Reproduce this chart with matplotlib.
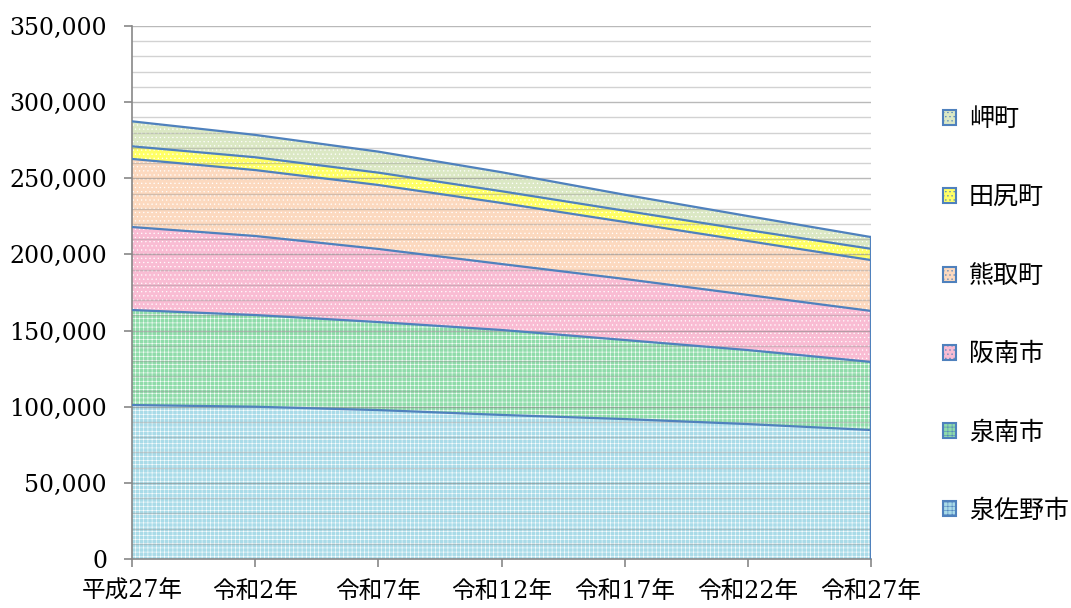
import numpy as np
import matplotlib.pyplot as plt
from matplotlib.patches import Patch
from matplotlib.ticker import FuncFormatter, MultipleLocator

years = ["平成27年", "令和2年", "令和7年", "令和12年", "令和17年", "令和22年", "令和27年"]

# bottom to top
izumisano = [101100, 100000, 97800, 94600, 91900, 88600, 84700]
sennan = [62400, 60200, 57800, 55800, 51900, 48600, 44700]
hannan = [54500, 51900, 48000, 43300, 40100, 36200, 33500]
kumatori = [44700, 43300, 42000, 40100, 37400, 35400, 33400]
tajiri = [8300, 8400, 8100, 7700, 7400, 7200, 7400]
misaki = [16400, 14700, 13800, 12500, 10500, 9200, 7700]

names = ["泉佐野市", "泉南市", "阪南市", "熊取町", "田尻町", "岬町"]
series = [izumisano, sennan, hannan, kumatori, tajiri, misaki]
colors = ["#a9dbe8", "#8fdcaa", "#f9bcd3", "#fcd9bf", "#ffff66", "#dbe8c4"]
hatches = ["++++", "++++", "....", "....", "....", "...."]

plt.rcParams['hatch.linewidth'] = 0.4
jp = ['DejaVu Serif', 'Noto Sans CJK JP']

fig = plt.figure(figsize=(10.71, 6.08), dpi=100)
ax = fig.add_axes([132 / 1071, 49 / 608, 739 / 1071, 533 / 608])

x = np.arange(len(years))
base = np.zeros(len(years))
for vals, c, h in zip(series, colors, hatches):
    top = base + np.array(vals)
    ax.fill_between(x, base, top, facecolor=c, edgecolor="white", hatch=h, linewidth=0, zorder=1)
    ax.plot(x, top, color="#4f81bd", lw=1.6, zorder=3)
    base = top
ax.plot([x[-1], x[-1]], [0, base[-1]], color="#4f81bd", lw=1.6, zorder=3)

# gridlines every 10,000, darker at 50,000
for v in range(10000, 350001, 10000):
    if v % 50000 == 0:
        ax.axhline(v, color="#808080", lw=1.0, alpha=0.55, zorder=2)
    else:
        ax.axhline(v, color="#909090", lw=1.0, alpha=0.4, zorder=2)

ax.set_xlim(0, len(years) - 1)
ax.set_ylim(0, 350000)
ax.yaxis.set_major_locator(MultipleLocator(50000))
ax.yaxis.set_major_formatter(FuncFormatter(lambda v, p: f"{int(v):,}"))
ax.set_xticks(x)
ax.set_xticklabels(years)
for lab in ax.get_xticklabels():
    lab.set_family(jp)
    lab.set_fontsize(17)
for lab in ax.get_yticklabels():
    lab.set_family('DejaVu Serif')
    lab.set_fontsize(17)

for s in ['top', 'right']:
    ax.spines[s].set_visible(False)
for s in ['left', 'bottom']:
    ax.spines[s].set_color("#888888")
    ax.spines[s].set_linewidth(1.2)
ax.tick_params(axis='both', direction='out', length=6, color="#888888", width=1.2)
ax.tick_params(axis='y', pad=12)
ax.tick_params(axis='x', pad=9)

handles = [Patch(facecolor=c, edgecolor="#4f81bd", lw=1.5, hatch=h)
           for c, h in zip(colors[::-1], hatches[::-1])]
fig.legend(handles, names[::-1], loc='upper left', bbox_to_anchor=(930 / 1071, 1 - 94 / 608),
           frameon=False, handlelength=0.55, handleheight=0.55, handletextpad=0.5,
           labelspacing=2.09, borderpad=0, prop={'family': 'Noto Sans CJK JP', 'size': 18})

fig.savefig("out.png", dpi=100)
